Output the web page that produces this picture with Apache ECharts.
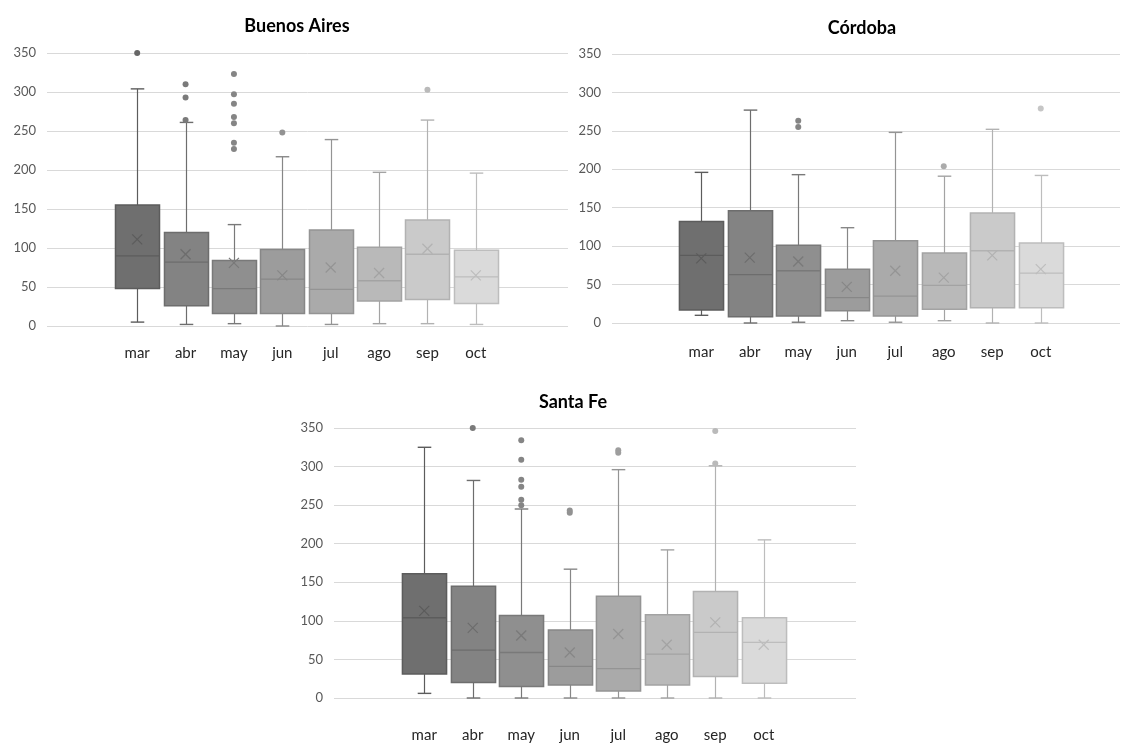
<!DOCTYPE html>
<html>
<head>
<meta charset="utf-8">
<script src="https://cdn.jsdelivr.net/npm/echarts@6/dist/echarts.min.js"></script>
<style>
html,body{margin:0;padding:0;background:#fff;}
#chart{width:1121px;height:743px;}
</style>
</head>
<body>
<div id="chart"></div>
<script>
const months = ['mar','abr','may','jun','jul','ago','sep','oct'];
const yTicks = [0, 50, 100, 150, 200, 250, 300, 350];

// Buenos Aires
const baMin  = [5, 2, 3, 0, 2, 3, 3, 2];
const baQ1   = [48, 26, 16, 16, 16, 32, 34, 29];
const baMed  = [90, 82, 48, 60, 47, 58, 92, 63];
const baQ3   = [155, 120, 84, 98, 123, 101, 136, 97];
const baMax  = [304, 261, 130, 217, 239, 197, 264, 196];
const baMean = [111, 92, 81, 65, 75, 68, 99, 65];
const baOut  = [[0,350],[1,310],[1,293],[1,264],[2,323],[2,297],[2,285],[2,268],[2,260],[2,235],[2,227],[3,248],[6,303]];

// Córdoba
const coMin  = [10, 0, 1, 3, 1, 3, 0, 0];
const coQ1   = [17, 8, 9, 16, 9, 18, 20, 20];
const coMed  = [88, 63, 68, 33, 35, 49, 94, 65];
const coQ3   = [132, 146, 101, 70, 107, 91, 143, 104];
const coMax  = [196, 277, 193, 124, 248, 191, 252, 192];
const coMean = [84, 85, 80, 47, 68, 59, 88, 70];
const coOut  = [[2,263],[2,255],[5,204],[7,279]];

// Santa Fe
const sfMin  = [6, 0, 0, 0, 0, 0, 0, 0];
const sfQ1   = [31, 20, 15, 17, 9, 17, 28, 19];
const sfMed  = [104, 62, 59, 41, 38, 57, 85, 72];
const sfQ3   = [161, 145, 107, 88, 132, 108, 138, 104];
const sfMax  = [325, 282, 245, 167, 296, 192, 301, 205];
const sfMean = [113, 91, 81, 59, 83, 69, 98, 69];
const sfOut  = [[1,350],[2,334],[2,309],[2,283],[2,274],[2,257],[2,250],[3,240],[3,243],[4,318],[4,321],[6,346],[6,304]];

const boxFill = ['#6f6f6f','#838383','#8f8f8f','#9c9c9c','#aaaaaa','#b9b9b9','#cacaca','#dadada'];
const boxLine = ['#5c5c5c','#6d6d6d','#797979','#878787','#949494','#a3a3a3','#b2b2b2','#bdbdbd'];
const dotColor = ['#666666','#7a7a7a','#858585','#929292','#9e9e9e','#ababab','#bababa','#c6c6c6'];

const FONT = 'Lato, "Open Sans", sans-serif';

function boxRows(mn, q1, md, q3, mx, mean) {
  return months.map((m, i) => [i, mn[i], q1[i], md[i], q3[i], mx[i], mean[i]]);
}

function renderBox(params, api) {
  const i = api.value(0);
  const cMin = api.coord([i, api.value(1)]);
  const cQ1 = api.coord([i, api.value(2)]);
  const cMed = api.coord([i, api.value(3)]);
  const cQ3 = api.coord([i, api.value(4)]);
  const cMax = api.coord([i, api.value(5)]);
  const cMean = api.coord([i, api.value(6)]);
  const band = api.size([1, 0])[0];
  const bw = band * 0.91;
  const cw = band * 0.28;
  const mx = 5;
  const x = Math.round(cMed[0]) + 0.5;
  const fill = boxFill[i], line = boxLine[i];
  const ls = { stroke: line, lineWidth: 1.2 };
  return {
    type: 'group',
    children: [
      { type: 'line', shape: { x1: x, y1: cQ3[1], x2: x, y2: cMax[1] }, style: ls },
      { type: 'line', shape: { x1: x, y1: cQ1[1], x2: x, y2: cMin[1] }, style: ls },
      { type: 'line', shape: { x1: x - cw / 2, y1: cMax[1], x2: x + cw / 2, y2: cMax[1] }, style: { stroke: line, lineWidth: 1.4 } },
      { type: 'line', shape: { x1: x - cw / 2, y1: cMin[1], x2: x + cw / 2, y2: cMin[1] }, style: { stroke: line, lineWidth: 1.4 } },
      { type: 'rect', shape: { x: x - bw / 2, y: cQ3[1], width: bw, height: cQ1[1] - cQ3[1] }, style: { fill: fill, stroke: line, lineWidth: 1.5 } },
      { type: 'line', shape: { x1: x - bw / 2, y1: cMed[1], x2: x + bw / 2, y2: cMed[1] }, style: { stroke: line, lineWidth: 1.3 } },
      { type: 'line', shape: { x1: cMean[0] - mx, y1: cMean[1] - mx, x2: cMean[0] + mx, y2: cMean[1] + mx }, style: { stroke: line, lineWidth: 1.2 } },
      { type: 'line', shape: { x1: cMean[0] - mx, y1: cMean[1] + mx, x2: cMean[0] + mx, y2: cMean[1] - mx }, style: { stroke: line, lineWidth: 1.2 } }
    ]
  };
}

const panels = [
  { title: 'Buenos Aires', tx: 292, ty: 12, outer: { left: 47, top: 53, width: 521, height: 273 }, inner: { left: 113, width: 387 }, labelMargin: 20,
    rows: boxRows(baMin, baQ1, baMed, baQ3, baMax, baMean), out: baOut },
  { title: 'Córdoba', tx: 857, ty: 14, outer: { left: 612, top: 54, width: 508, height: 269 }, inner: { left: 677, width: 388 }, labelMargin: 22,
    rows: boxRows(coMin, coQ1, coMed, coQ3, coMax, coMean), out: coOut },
  { title: 'Santa Fe', tx: 568, ty: 388, outer: { left: 334, top: 428, width: 522, height: 270 }, inner: { left: 400, width: 388 }, labelMargin: 30,
    rows: boxRows(sfMin, sfQ1, sfMed, sfQ3, sfMax, sfMean), out: sfOut }
];

const option = {
  backgroundColor: '#ffffff',
  animation: false,
  title: [], grid: [], xAxis: [], yAxis: [], series: []
};

panels.forEach((p, k) => {
  const go = 2 * k, gi = 2 * k + 1;
  option.title.push({
    text: p.title, left: p.tx, top: p.ty, textAlign: 'center',
    textStyle: { fontFamily: FONT, fontWeight: 'bold', fontSize: 18, color: '#000' }
  });
  option.grid.push({ left: p.outer.left, top: p.outer.top, width: p.outer.width, height: p.outer.height, containLabel: false });
  option.grid.push({ left: p.inner.left, top: p.outer.top, width: p.inner.width, height: p.outer.height, containLabel: false });
  option.xAxis.push({ type: 'value', gridIndex: go, show: false, min: 0, max: 1 });
  option.xAxis.push({
    type: 'category', gridIndex: gi, data: months, boundaryGap: true,
    axisLine: { show: false }, axisTick: { show: false },
    axisLabel: { margin: p.labelMargin, fontFamily: FONT, fontSize: 15, color: '#262626' }
  });
  option.yAxis.push({
    type: 'value', gridIndex: go, min: yTicks[0], max: yTicks[yTicks.length - 1], interval: 50,
    axisLine: { show: false }, axisTick: { show: false },
    axisLabel: { margin: 11, fontFamily: FONT, fontSize: 13, color: '#595959' },
    splitLine: { show: true, lineStyle: { color: '#d9d9d9', width: 1 } }
  });
  option.yAxis.push({
    type: 'value', gridIndex: gi, min: yTicks[0], max: yTicks[yTicks.length - 1], interval: 50, show: false,
    splitLine: { show: false }
  });
  option.series.push({
    type: 'custom', xAxisIndex: gi, yAxisIndex: gi,
    renderItem: renderBox, data: p.rows,
    encode: { x: 0, y: [1, 2, 3, 4, 5] }, z: 2
  });
  option.series.push({
    type: 'scatter', xAxisIndex: gi, yAxisIndex: gi, data: p.out, symbolSize: 6, z: 3,
    itemStyle: { color: (d) => dotColor[d.value[0]], opacity: 1 }
  });
});

const chart = echarts.init(document.getElementById('chart'), null, { renderer: 'canvas' });
chart.setOption(option);
</script>
</body>
</html>
